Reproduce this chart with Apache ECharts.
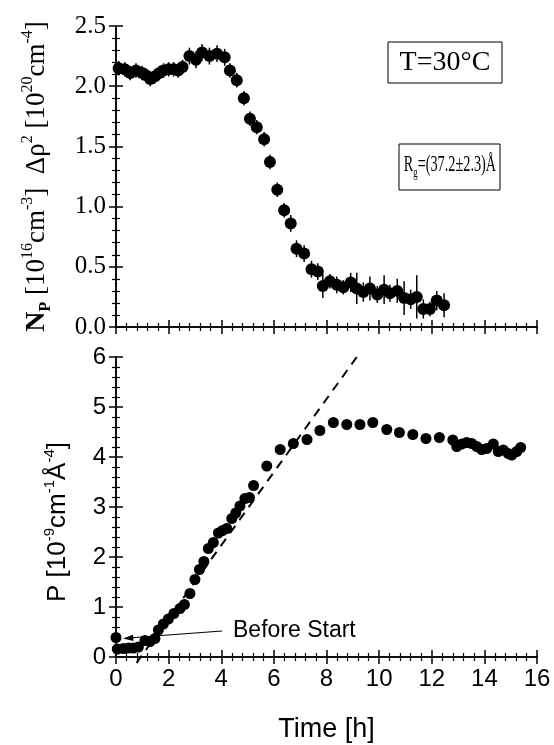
<!DOCTYPE html>
<html>
<head>
<meta charset="utf-8">
<script src="https://cdn.jsdelivr.net/npm/echarts@6/dist/echarts.min.js"></script>
<style>
html,body{margin:0;padding:0;background:#fff;}
#chart{width:554px;height:745px;}
</style>
</head>
<body>
<div id="chart"></div>
<script>
// ---- Top panel: N_P Δρ² vs time ----
const topTime = [0.10,0.33,0.54,0.76,0.99,1.14,1.30,1.47,1.65,1.81,2.00,2.19,2.36,2.53,2.79,3.04,3.27,3.55,3.84,4.13,4.33,4.59,4.86,5.09,5.35,5.63,5.85,6.13,6.39,6.64,6.86,7.15,7.43,7.67,7.86,8.13,8.39,8.64,8.92,9.15,9.40,9.65,9.93,10.19,10.41,10.69,10.95,11.20,11.43,11.68,11.93,12.19,12.47];
const topValue = [2.15,2.14,2.11,2.13,2.11,2.09,2.06,2.08,2.11,2.13,2.14,2.14,2.13,2.16,2.25,2.22,2.28,2.25,2.27,2.24,2.13,2.05,1.90,1.73,1.66,1.56,1.37,1.14,0.97,0.86,0.65,0.61,0.48,0.46,0.34,0.38,0.35,0.33,0.37,0.32,0.29,0.32,0.27,0.31,0.28,0.30,0.24,0.23,0.25,0.15,0.15,0.22,0.18];
const topError = [0.06,0.06,0.06,0.06,0.06,0.06,0.06,0.06,0.06,0.06,0.06,0.06,0.06,0.06,0.07,0.07,0.07,0.07,0.07,0.07,0.06,0.06,0.06,0.06,0.06,0.06,0.06,0.06,0.06,0.07,0.07,0.07,0.07,0.07,0.10,0.06,0.07,0.06,0.08,0.13,0.08,0.10,0.07,0.12,0.07,0.10,0.14,0.08,0.18,0.08,0.06,0.08,0.10];

// ---- Bottom panel: P vs time ----
const botTime = [0.00,0.05,0.28,0.47,0.66,0.85,1.10,1.29,1.48,1.61,1.80,1.99,2.20,2.43,2.60,2.81,3.00,3.17,3.34,3.51,3.70,3.89,4.05,4.21,4.40,4.55,4.71,4.90,5.07,5.23,5.73,6.24,6.74,7.26,7.75,8.26,8.77,9.27,9.76,10.29,10.77,11.28,11.78,12.29,12.80,12.95,13.14,13.33,13.52,13.71,13.90,14.09,14.34,14.53,14.72,14.91,15.04,15.23,15.38];
const botValue = [0.39,0.16,0.17,0.18,0.18,0.20,0.33,0.31,0.37,0.54,0.66,0.76,0.87,0.97,1.05,1.27,1.55,1.75,1.91,2.17,2.29,2.48,2.53,2.57,2.77,2.88,3.02,3.17,3.19,3.43,3.82,4.15,4.27,4.35,4.53,4.69,4.65,4.65,4.69,4.55,4.49,4.45,4.37,4.39,4.34,4.21,4.26,4.29,4.27,4.21,4.15,4.17,4.26,4.11,4.14,4.07,4.04,4.11,4.19];

// ---- Dashed linear fit ----
const fitTime = [0.78, 9.15];
const fitValue = [-0.12, 6.00];

// ---- Axis ticks ----
const xTicks = [0,2,4,6,8,10,12,14,16];
const topYTicks = ['0.0','0.5','1.0','1.5','2.0','2.5'];
const botYTicks = ['0','1','2','3','4','5','6'];

const SERIF = '"Liberation Serif","Times New Roman",serif';
const SANS = '"Liberation Sans",Arial,sans-serif';

const chart = echarts.init(document.getElementById('chart'), null, {renderer:'canvas'});

const axisLine = {show:true, lineStyle:{color:'#000', width:1.5}};
const majorTick = {show:true, inside:true, length:7, lineStyle:{color:'#000', width:1.5}};
const minorTick = {show:true, splitNumber:5, length:4, lineStyle:{color:'#000', width:1.2}};

function xAx(grid, pos, labels) {
  return {
    type:'value', gridIndex:grid, position:pos, min:xTicks[0], max:xTicks[xTicks.length-1], interval:2,
    axisLine, axisTick:majorTick, minorTick, splitLine:{show:false},
    axisLabel: labels ? {show:true, fontFamily:SANS, fontSize:24, color:'#000', margin:10} : {show:false}
  };
}
function yAx(grid, pos, max, interval, labelCfg) {
  return Object.assign({
    type:'value', gridIndex:grid, position:pos, min:0, max, interval,
    axisLine, axisTick:majorTick, minorTick, splitLine:{show:false},
    axisLabel: {show:false}
  }, labelCfg || {});
}

const sup = (fam, size) => ({fontFamily:fam, fontSize:size, lineHeight:size, verticalAlign:'top', color:'#000'});
const sub = (fam, size) => ({fontFamily:fam, fontSize:size, lineHeight:size, verticalAlign:'bottom', color:'#000'});

const option = {
  animation:false,
  backgroundColor:'#fff',
  grid:[
    {left:116, top:26, width:421, height:301},
    {left:116, top:357, width:421, height:300}
  ],
  xAxis:[
    xAx(0,'bottom',false), xAx(0,'top',false),
    Object.assign(xAx(1,'bottom',true), {
      name:'Time [h]', nameLocation:'middle', nameGap:59,
      nameTextStyle:{fontFamily:SANS, fontSize:27, color:'#000'}
    }),
    xAx(1,'top',false)
  ],
  yAxis:[
    yAx(0,'left',2.5,0.5,{
      axisLabel:{show:true, fontFamily:SERIF, fontSize:25, color:'#000', margin:10,
        formatter:(v)=>topYTicks[Math.round(v/0.5)]},
      name:'{b|N}{bs|P}{r| [10}{s|16}{r|cm}{s|-3}{r|]  Δρ}{s|2}{r| [10}{s|20}{r|cm}{s|-4}{r|]}',
      nameLocation:'middle', nameGap:62, nameRotate:90,
      nameTextStyle:{rich:{
        b:{fontFamily:SERIF, fontWeight:'bold', fontSize:28, lineHeight:34, color:'#000'},
        bs:Object.assign(sub(SERIF,16),{fontWeight:'bold'}),
        r:{fontFamily:SERIF, fontSize:27, lineHeight:34, color:'#000'},
        s:sup(SERIF,16)
      }}
    }),
    yAx(0,'right',2.5,0.5),
    yAx(1,'left',6,1,{
      axisLabel:{show:true, fontFamily:SANS, fontSize:24, color:'#000', margin:10,
        formatter:(v)=>botYTicks[Math.round(v)]},
      name:'{r|P [10}{s|-9}{r|cm}{s|-1}{r|Å}{s|-4}{r|]}',
      nameLocation:'middle', nameGap:42, nameRotate:90,
      nameTextStyle:{padding:[0,30,0,0], rich:{
        r:{fontFamily:SANS, fontSize:26, lineHeight:32, color:'#000'},
        s:sup(SANS,15)
      }}
    }),
    yAx(1,'right',6,1)
  ],
  series:[
    {
      type:'custom', xAxisIndex:0, yAxisIndex:0, silent:true,
      data: topTime.map((t,i)=>[t, topValue[i]-topError[i], topValue[i]+topError[i]]),
      renderItem:(params, api)=>{
        const a = api.coord([api.value(0), api.value(1)]);
        const b = api.coord([api.value(0), api.value(2)]);
        return {type:'line', shape:{x1:a[0],y1:a[1],x2:b[0],y2:b[1]}, style:{stroke:'#000', lineWidth:1.5}};
      }
    },
    {
      type:'scatter', xAxisIndex:0, yAxisIndex:0, symbol:'circle', symbolSize:12,
      itemStyle:{color:'#000', opacity:1},
      data: topTime.map((t,i)=>[t, topValue[i]])
    },
    {
      type:'line', xAxisIndex:2, yAxisIndex:2, clip:false, symbol:'none',
      lineStyle:{color:'#000', width:2, type:[9,7]},
      data: fitTime.map((t,i)=>[t, fitValue[i]])
    },
    {
      type:'scatter', xAxisIndex:2, yAxisIndex:2, symbol:'circle', symbolSize:11,
      itemStyle:{color:'#000', opacity:1},
      data: botTime.map((t,i)=>[t, botValue[i]])
    }
  ],
  graphic:[
    {type:'rect', shape:{x:388, y:42, width:114, height:41}, style:{fill:'#fff', stroke:'#000', lineWidth:1}},
    {type:'text', x:445, y:63, style:{text:'T=30°C', fontFamily:SERIF, fontSize:28, fill:'#000', align:'center', verticalAlign:'middle'}},
    {type:'rect', shape:{x:399, y:144, width:101, height:46}, style:{fill:'#fff', stroke:'#000', lineWidth:1}},
    {type:'text', x:450, y:165, scaleX:0.62, style:{
      text:'{r|R}{s|g}{r|=(37.2±2.3)Å}', fontFamily:SERIF, fontSize:23, align:'center', verticalAlign:'middle',
      rich:{r:{fontFamily:SERIF, fontSize:23, lineHeight:30}, s:{fontFamily:SERIF, fontSize:14, lineHeight:14, verticalAlign:'bottom'}}
    }},
    {type:'text', x:233, y:631, style:{text:'Before Start', fontFamily:SANS, fontSize:23, fill:'#000', align:'left', verticalAlign:'middle'}},
    {type:'line', shape:{x1:222, y1:631, x2:128, y2:638}, style:{stroke:'#000', lineWidth:1}},
    {type:'polygon', shape:{points:[[123,638.4],[133,634.8],[133.5,641]]}, style:{fill:'#000'}}
  ]
};
chart.setOption(option);
</script>
</body>
</html>
